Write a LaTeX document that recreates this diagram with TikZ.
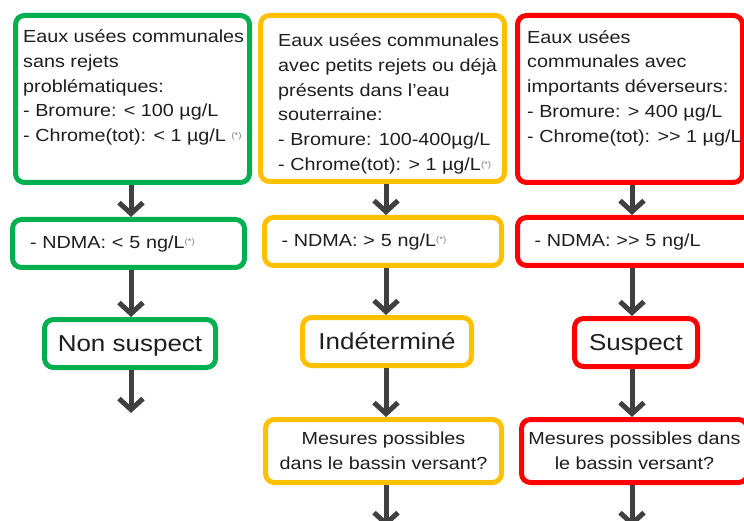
\documentclass[tikz,border=0pt]{standalone}
\usepackage{fontspec}
\setmainfont[FakeStretch=1.13]{Liberation Sans}
\usetikzlibrary{arrows.meta}

\newcommand{\astnote}{{\fontsize{8.5}{8.5}\selectfont\color{gray}\raisebox{3.5pt}{(*)}}}

\begin{document}
\begin{tikzpicture}[x=1pt, y=-1pt,
    box/.style={draw, rounded corners=9pt, line width=5pt, fill=white, text=textColour},
    txt/.style={inner sep=0pt, align=left, font=\fontsize{17.5}{24.8}\selectfont, text=textColour},
    small/.style={font=\fontsize{17.5}{24.8}\selectfont},
    big/.style={font=\fontsize{23}{26}\selectfont, text depth=0pt},
    flow/.style={draw=arrowColour, line width=5pt, -{Straight Barb[length=11pt,width=24pt]}}]

    \definecolor{greenColour}{HTML}{00B050}
    \definecolor{yellowColour}{HTML}{FFC000}
    \definecolor{redColour}{HTML}{FF0000}
    \definecolor{arrowColour}{HTML}{404040}
    \definecolor{textColour}{HTML}{1E1E1E}

    \useasboundingbox (0,0) rectangle (744,521);

    % Columns of the arrows
    \coordinate (gCol) at (131,0);
    \coordinate (yCol) at (386,0);
    \coordinate (rCol) at (632,0);

    % Green column
    \node[box, draw=greenColour, minimum width=234pt, minimum height=167pt] (gTop) at (132.5,99) {};
    \node[txt, anchor=north west] (gTopText) at ([shift={(10,16.5)}]gTop.north west)
        {Eaux usées communales\\ sans rejets\\ problématiques:\\ - Bromure: < 100 µg/L\\ - Chrome(tot): < 1 µg/L \astnote};
    \node[box, small, draw=greenColour, text width=197pt, inner xsep=17.5pt, minimum height=48pt, align=left] (gNd) at (128.5,243.5)
        {- NDMA: < 5 ng/L\astnote};
    \node[box, big, draw=greenColour, minimum width=171pt, minimum height=48pt] (gRes) at (130,343.5) {Non suspect};

    % Yellow column
    \node[box, draw=yellowColour, minimum width=244pt, minimum height=166pt] (yTop) at (382.5,98.5) {};
    \node[txt, anchor=north west] (yTopText) at ([shift={(20,20.5)}]yTop.north west)
        {Eaux usées communales\\ avec petits rejets ou déjà\\ présents dans l'eau\\ souterraine:\\ - Bromure: 100-400µg/L\\ - Chrome(tot): > 1 µg/L\astnote};
    \node[box, small, draw=yellowColour, text width=203pt, inner xsep=17pt, minimum height=48pt, align=left] (yNd) at (383,241.5)
        {- NDMA: > 5 ng/L\astnote};
    \node[box, big, draw=yellowColour, minimum width=169pt, minimum height=48pt] (yRes) at (387,341.5) {Indéterminé};
    \node[box, small, draw=yellowColour, minimum width=236pt, minimum height=63pt, align=center] (yMes) at (383.5,451)
        {Mesures possibles\\ dans le bassin versant?};

    % Red column
    \node[box, draw=redColour, minimum width=225pt, minimum height=167pt] (rTop) at (630,99) {};
    \node[txt, anchor=north west] (rTopText) at ([shift={(12,17)}]rTop.north west)
        {Eaux usées\\ communales avec\\ importants déverseurs:\\ - Bromure: > 400 µg/L\\ - Chrome(tot): >{}> 1 µg/L};
    \node[box, small, draw=redColour, text width=211pt, inner xsep=17pt, minimum height=48pt, align=left] (rNd) at (640,241.5)
        {- NDMA: >{}> 5 ng/L};
    \node[box, big, draw=redColour, minimum width=123pt, minimum height=48pt] (rRes) at (636,342.5) {Suspect};
    \node[box, small, draw=redColour, minimum width=226pt, minimum height=63pt, align=center] (rMes) at (634.5,451)
        {Mesures possibles dans\\ le bassin versant?};

    % Free ends of the last arrows
    \coordinate (gEnd) at (131,413);
    \coordinate (yEnd) at (386,527);
    \coordinate (rEnd) at (632,527);

    % Draw arrows
    \foreach \col/\a/\b in {gCol/gTop/gNd, gCol/gNd/gRes, yCol/yTop/yNd, yCol/yNd/yRes, yCol/yRes/yMes,
                            rCol/rTop/rNd, rCol/rNd/rRes, rCol/rRes/rMes}
        \draw[flow] (\col |- \a.south) -- (\col |- \b.north);
    \draw[flow] (gCol |- gRes.south) -- (gEnd);
    \draw[flow] (yCol |- yMes.south) -- (yEnd);
    \draw[flow] (rCol |- rMes.south) -- (rEnd);

\end{tikzpicture}
\end{document}
